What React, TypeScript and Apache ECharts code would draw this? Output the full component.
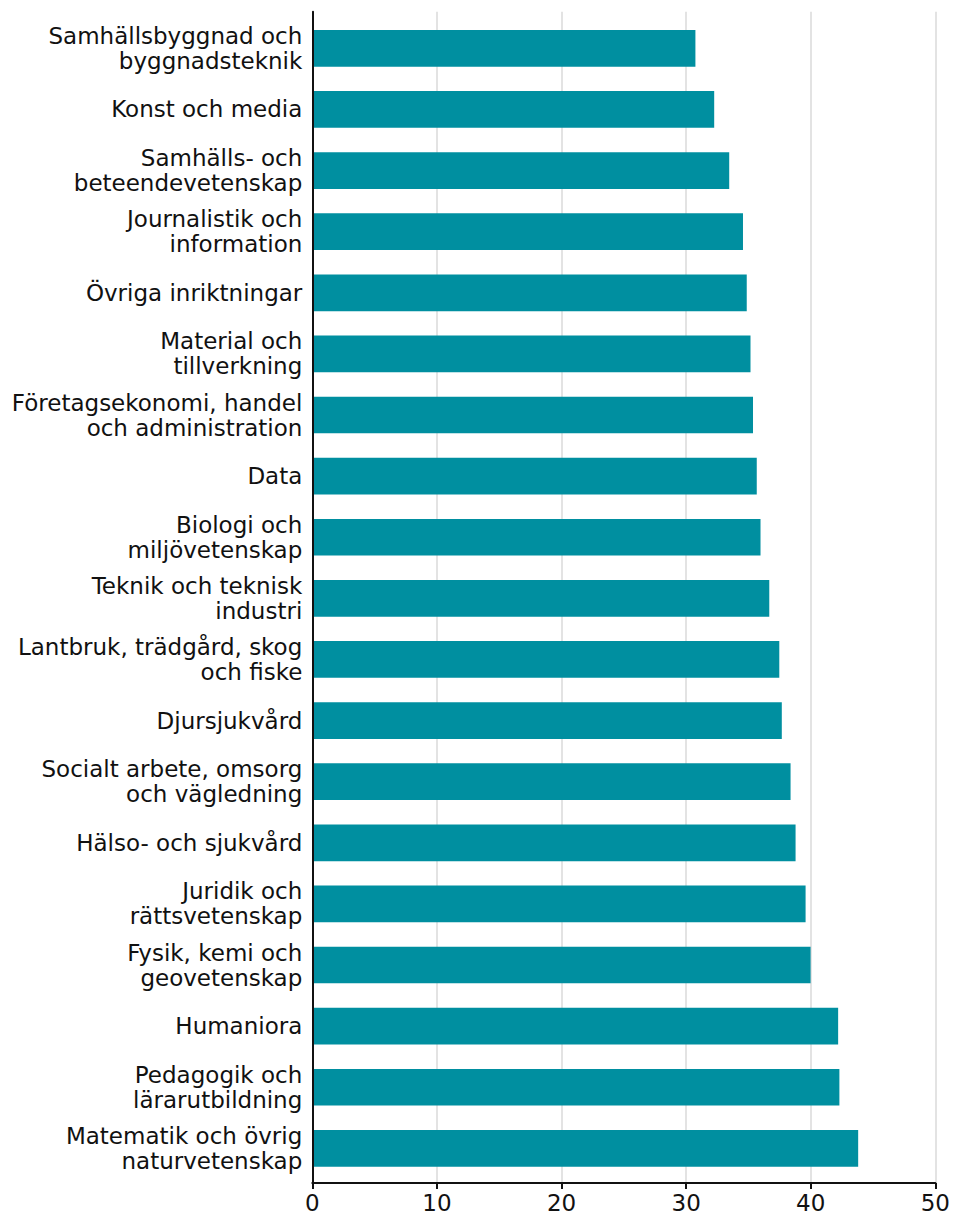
import React, { useEffect, useRef } from "react";
import * as echarts from "echarts";

const categories = [
  "Samhällsbyggnad och\nbyggnadsteknik",
  "Konst och media",
  "Samhälls- och\nbeteendevetenskap",
  "Journalistik och\ninformation",
  "Övriga inriktningar",
  "Material och\ntillverkning",
  "Företagsekonomi, handel\noch administration",
  "Data",
  "Biologi och\nmiljövetenskap",
  "Teknik och teknisk\nindustri",
  "Lantbruk, trädgård, skog\noch fiske",
  "Djursjukvård",
  "Socialt arbete, omsorg\noch vägledning",
  "Hälso- och sjukvård",
  "Juridik och\nrättsvetenskap",
  "Fysik, kemi och\ngeovetenskap",
  "Humaniora",
  "Pedagogik och\nlärarutbildning",
  "Matematik och övrig\nnaturvetenskap",
];

const values = [
  30.6, 32.1, 33.3, 34.4, 34.7, 35.0, 35.2, 35.5, 35.8, 36.5, 37.3, 37.5, 38.2,
  38.6, 39.4, 39.8, 42.0, 42.1, 43.6,
];

const xTicks = [0, 10, 20, 30, 40, 50];

const FONT = "DejaVu Sans";

export default function App() {
  const ref = useRef<HTMLDivElement>(null);
  useEffect(() => {
    if (!ref.current) return;
    const chart = echarts.init(ref.current, undefined, { renderer: "svg" });
    const left = 312.3;
    const width = 626;
    const fullTop = 11.7;
    const fullBottom = 1184.3;
    const barTop = 17.8;
    const barHeight = 1161.1;
    chart.setOption({
      animation: false,
      backgroundColor: "#ffffff",
      grid: [
        { left, width, top: barTop, height: barHeight, containLabel: false },
        { left, width, top: fullTop, height: fullBottom - fullTop, containLabel: false },
      ],
      xAxis: [
        {
          gridIndex: 0,
          type: "value",
          min: xTicks[0],
          max: xTicks[xTicks.length - 1],
          interval: 10,
          show: false,
        },
        {
          gridIndex: 1,
          type: "value",
          min: xTicks[0],
          max: xTicks[xTicks.length - 1],
          interval: 10,
          axisLine: { show: true, lineStyle: { color: "#111", width: 2 } },
          axisTick: { show: true, length: 6, lineStyle: { color: "#111", width: 2 } },
          axisLabel: {
            color: "#111",
            fontFamily: FONT,
            fontSize: 23,
            margin: 8,
            formatter: (v: number) => String(v),
          },
          splitLine: { show: true, lineStyle: { color: "#e3e3e3", width: 2 } },
          z: 1,
        },
      ],
      yAxis: [
        {
          gridIndex: 0,
          type: "category",
          data: categories,
          inverse: true,
          axisLine: { show: false },
          axisTick: { show: false },
          axisLabel: {
            color: "#111",
            fontFamily: FONT,
            fontSize: 23,
            lineHeight: 25,
            margin: 10,
            align: "right",
          },
          splitLine: { show: false },
        },
        {
          gridIndex: 1,
          type: "value",
          min: 0,
          max: 1,
          axisLine: { show: true, onZero: false, lineStyle: { color: "#111", width: 2 } },
          axisTick: { show: false },
          axisLabel: { show: false },
          splitLine: { show: false },
          z: 3,
        },
      ],
      series: [
        {
          type: "bar",
          xAxisIndex: 0,
          yAxisIndex: 0,
          data: values,
          barWidth: 36.7,
          itemStyle: { color: "#008fa0" },
          z: 2,
        },
      ],
    });
    return () => chart.dispose();
  }, []);
  return (
    <div
      ref={ref}
      style={{ position: "fixed", left: 0, top: 0, width: 953, height: 1214 }}
    />
  );
}
